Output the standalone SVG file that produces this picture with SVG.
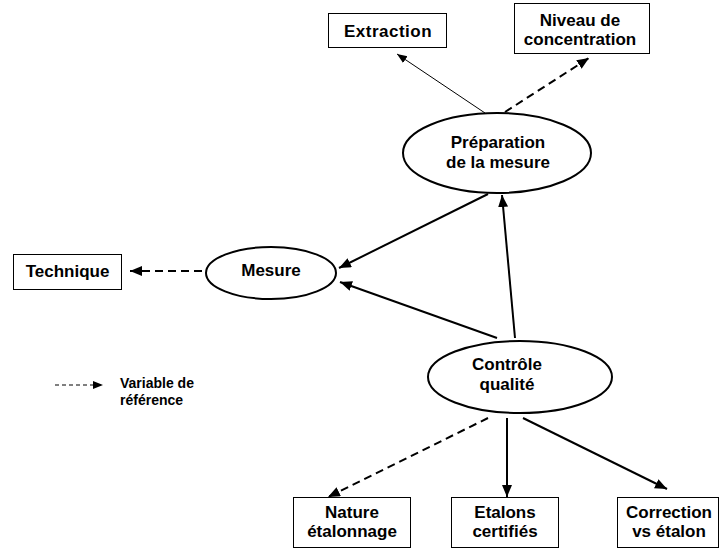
<svg xmlns="http://www.w3.org/2000/svg" width="721" height="550" viewBox="0 0 721 550">
<style>
.box{fill:#fff;stroke:#000;stroke-width:1}
.ell{fill:#fff;stroke:#000;stroke-width:2}
.t{font-family:"Liberation Sans",Arial,sans-serif;font-weight:bold;font-size:17px;fill:#000;text-anchor:middle}
.lg{font-family:"Liberation Sans",Arial,sans-serif;font-weight:bold;font-size:14px;fill:#000}
.c{fill:none;stroke:#000;stroke-width:2}
.thin{fill:none;stroke:#000;stroke-width:1}
.d{stroke-dasharray:8 5}
</style>
<defs>
<marker id="ah" markerUnits="userSpaceOnUse" markerWidth="14" markerHeight="12" refX="12" refY="5" orient="auto">
<path d="M0,0 L12,5 L0,10 Z" fill="#000"/>
</marker>
<marker id="ahs" markerUnits="userSpaceOnUse" markerWidth="12" markerHeight="10" refX="10" refY="4" orient="auto">
<path d="M0,0 L10,4 L0,8 Z" fill="#000"/>
</marker>
</defs>
<rect width="721" height="550" fill="#fff"/>
<g id="connectors">
<line class="thin" x1="485" y1="113" x2="397" y2="54" marker-end="url(#ahs)"/>
<line class="c d" x1="505" y1="112" x2="589" y2="58" marker-end="url(#ah)"/>
<line class="c" x1="488" y1="194" x2="339" y2="268" marker-end="url(#ah)"/>
<line class="c" x1="497" y1="338" x2="340" y2="282" marker-end="url(#ah)"/>
<line class="c" x1="515" y1="338" x2="502" y2="195" marker-end="url(#ah)"/>
<line class="c d" x1="202" y1="271" x2="130" y2="271" marker-end="url(#ah)"/>
<line class="c d" x1="488" y1="418" x2="328" y2="497" marker-end="url(#ah)"/>
<line class="c" x1="507" y1="418" x2="507" y2="497" marker-end="url(#ah)"/>
<line class="c" x1="523" y1="418" x2="667" y2="489" marker-end="url(#ah)"/>
<line class="thin" x1="55" y1="385" x2="103" y2="385" stroke-dasharray="4 3" marker-end="url(#ahs)"/>
</g>
<g id="extraction">
<rect class="box" x="328.5" y="13.5" width="118" height="34"/>
<text class="t" x="388" y="37" font-size="18" letter-spacing="0.5">Extraction</text>
</g>
<g id="niveau">
<rect class="box" x="514.5" y="3.5" width="135" height="50"/>
<text class="t" x="580" y="26">Niveau de</text>
<text class="t" x="580" y="45">concentration</text>
</g>
<g id="preparation">
<ellipse class="ell" cx="497" cy="153" rx="94" ry="40"/>
<text class="t" x="498" y="148" font-size="18">Préparation</text>
<text class="t" x="498" y="168" font-size="18">de la mesure</text>
</g>
<g id="technique">
<rect class="box" x="13.5" y="254.5" width="108" height="35"/>
<text class="t" x="67.5" y="277" font-size="16">Technique</text>
</g>
<g id="mesure">
<ellipse class="ell" cx="271" cy="273" rx="65" ry="26"/>
<text class="t" x="271" y="276">Mesure</text>
</g>
<g id="controle">
<ellipse class="ell" cx="520" cy="377" rx="92" ry="36"/>
<text class="t" x="507" y="370">Contrôle</text>
<text class="t" x="507" y="390">qualité</text>
</g>
<g id="nature">
<rect class="box" x="293.5" y="497.5" width="117" height="50"/>
<text class="t" x="352" y="518">Nature</text>
<text class="t" x="352" y="537">étalonnage</text>
</g>
<g id="etalons">
<rect class="box" x="451.5" y="497.5" width="107" height="50"/>
<text class="t" x="505" y="518">Etalons</text>
<text class="t" x="505" y="537">certifiés</text>
</g>
<g id="correction">
<rect class="box" x="617.5" y="497.5" width="101" height="50"/>
<text class="t" x="669" y="518">Correction</text>
<text class="t" x="669" y="537">vs étalon</text>
</g>
<g id="legend">
<text class="lg" x="120" y="388">Variable de</text>
<text class="lg" x="120" y="405">référence</text>
</g>
</svg>
